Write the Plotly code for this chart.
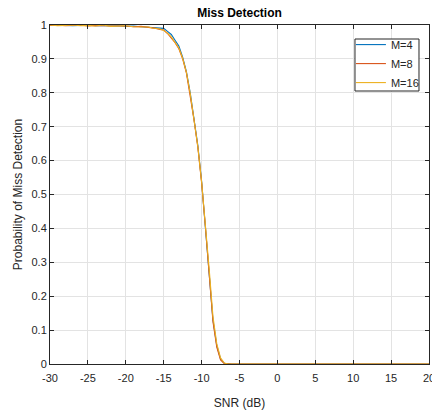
import plotly.graph_objects as go

snr = [-30, -29, -28, -27, -26, -25, -24, -23, -22, -21, -20, -19, -18, -17,
       -16.5, -16, -15.5, -15, -14.5, -14, -13.5, -13, -12.5, -12, -11.5, -11,
       -10.5, -10, -9.5, -9, -8.5, -8, -7.5, -7, -6.5, -6,
       -5, -4, -3, -2, -1, 0, 1, 2, 3, 4, 5, 6, 7, 8, 9, 10, 11, 12, 13, 14,
       15, 16, 17, 18, 19, 20]

pmd_m4 = [1.0, 0.999, 1.0, 0.998, 0.999, 1.0, 0.998, 0.999, 0.997, 0.998, 0.996, 0.997, 0.995, 0.994,
          0.993, 0.992, 0.991, 0.99, 0.981, 0.972, 0.955, 0.938, 0.905, 0.862, 0.80, 0.725,
          0.645, 0.54, 0.41, 0.275, 0.13, 0.055, 0.015, 0.002, 0.0, 0.0,
          0, 0, 0, 0, 0, 0, 0, 0, 0, 0, 0, 0, 0, 0, 0, 0, 0, 0, 0, 0,
          0, 0, 0, 0, 0, 0]
pmd_m8 = [0.999, 1.0, 0.998, 0.999, 1.0, 0.997, 0.999, 0.998, 0.998, 0.996, 0.997, 0.995, 0.996, 0.993,
          0.992, 0.99, 0.987, 0.985, 0.975, 0.962, 0.948, 0.93, 0.9, 0.858, 0.795, 0.72,
          0.64, 0.535, 0.405, 0.265, 0.125, 0.05, 0.012, 0.001, 0.0, 0.0,
          0, 0, 0, 0, 0, 0, 0, 0, 0, 0, 0, 0, 0, 0, 0, 0, 0, 0, 0, 0,
          0, 0, 0, 0, 0, 0]
pmd_m16 = [1.0, 0.998, 0.999, 1.0, 0.998, 0.999, 0.997, 1.0, 0.996, 0.997, 0.998, 0.995, 0.994, 0.994,
           0.991, 0.99, 0.988, 0.984, 0.976, 0.965, 0.95, 0.932, 0.902, 0.86, 0.798, 0.722,
           0.642, 0.538, 0.415, 0.28, 0.14, 0.06, 0.018, 0.003, 0.0, 0.0,
           0, 0, 0, 0, 0, 0, 0, 0, 0, 0, 0, 0, 0, 0, 0, 0, 0, 0, 0, 0,
           0, 0, 0, 0, 0, 0]

x_ticks = [-30, -25, -20, -15, -10, -5, 0, 5, 10, 15, 20]
x_ticklabels = ["-30", "-25", "-20", "-15", "-10", "-5", "0", "5", "10", "15", "20"]
y_ticks = [0, 0.1, 0.2, 0.3, 0.4, 0.5, 0.6, 0.7, 0.8, 0.9, 1]
y_ticklabels = ["0", "0.1", "0.2", "0.3", "0.4", "0.5", "0.6", "0.7", "0.8", "0.9", "1"]

series = [("M=4", pmd_m4, "#0072BD"), ("M=8", pmd_m8, "#D95319"), ("M=16", pmd_m16, "#EDB120")]

fig = go.Figure()
for name, vals, col in series:
    fig.add_trace(go.Scatter(x=snr, y=vals, mode="lines", name=name,
                             line=dict(color=col, width=1.1)))

FONT = "Liberation Sans, Arial"
axis_common = dict(showline=True, linecolor="#262626", linewidth=1, mirror="allticks",
                   ticks="inside", ticklen=4, tickcolor="#262626",
                   showgrid=True, gridcolor="#e3e3e3", gridwidth=1, zeroline=False,
                   automargin=False, ticklabeloverflow="allow",
                   tickfont=dict(family=FONT, size=11, color="#262626"))

# legend frame (plot-area fractions)
fig.add_shape(type="rect", xref="paper", yref="paper",
              x0=0.8047, x1=0.9736, y0=0.8053, y1=0.9587,
              line=dict(color="#262626", width=1), fillcolor="white", layer="above")

fig.update_layout(
    width=432, height=410,
    margin=dict(l=50, r=3, t=25, b=46),
    paper_bgcolor="white", plot_bgcolor="white",
    title=dict(text="<b>Miss Detection</b>", x=(50 + 429) / 2 / 432, xanchor="center",
               y=1 - 13 / 410, yanchor="middle",
               font=dict(family=FONT, size=12, color="black")),
    xaxis=dict(range=[-30, 20], tickvals=x_ticks, ticktext=x_ticklabels,
               ticklabelstandoff=4,
               title=dict(text="SNR (dB)",
                          font=dict(family=FONT, size=12, color="#262626")),
               **axis_common),
    yaxis=dict(range=[0, 1], tickvals=y_ticks, ticktext=y_ticklabels,
               title=dict(text="Probability of Miss Detection", standoff=6,
                          font=dict(family=FONT, size=12, color="#262626")),
               **axis_common),
    legend=dict(x=0.794, xanchor="left", y=0.985, yanchor="top",
                bgcolor="rgba(0,0,0,0)", borderwidth=0,
                font=dict(family=FONT, size=11, color="#262626"),
                itemwidth=30, tracegroupgap=0),
    showlegend=True,
)

fig.write_html("out.html", config={"displayModeBar": False},
               post_script="document.body.style.margin='0';document.body.style.overflow='hidden';")
